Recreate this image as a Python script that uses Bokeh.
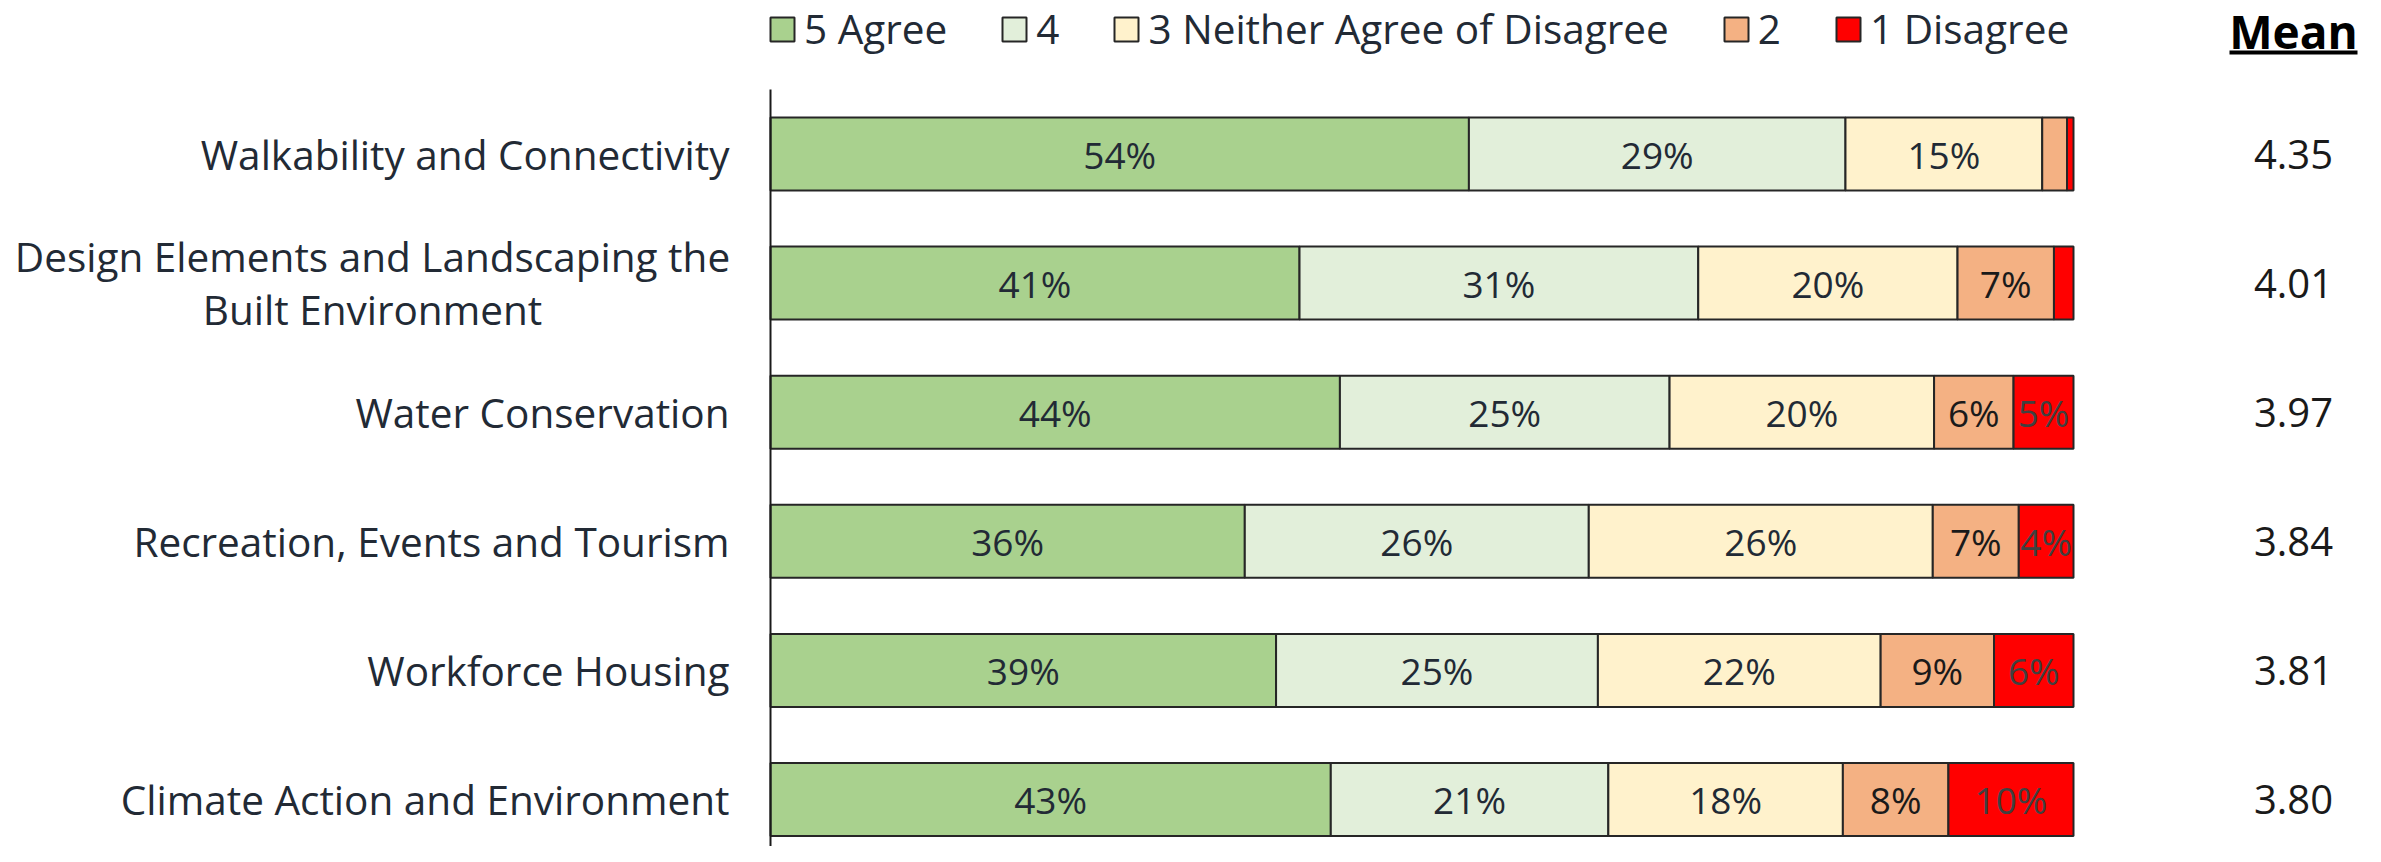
import numpy as np
from bokeh.plotting import figure
from bokeh.models import Range1d, ColumnDataSource, Legend, LegendItem
from bokeh.core.properties import value
from bokeh.embed import file_html
from bokeh.resources import INLINE

# ---------------- data ----------------
categories = [
    "Walkability and Connectivity",
    "Design Elements and Landscaping the\nBuilt Environment",
    "Water Conservation",
    "Recreation, Events and Tourism",
    "Workforce Housing",
    "Climate Action and Environment",
]
series_names = ["5 Agree", "4", "3 Neither Agree of Disagree", "2", "1 Disagree"]
agree5 = [53.6, 40.6, 43.7, 36.4, 38.8, 43.0]
agree4 = [28.9, 30.6, 25.3, 26.4, 24.7, 21.3]
neutral3 = [15.1, 19.9, 20.3, 26.4, 21.7, 18.0]
disagree2 = [1.9, 7.4, 6.1, 6.6, 8.7, 8.1]
disagree1 = [0.5, 1.5, 4.6, 4.2, 6.1, 9.6]
means = [4.35, 4.01, 3.97, 3.84, 3.81, 3.80]

series_values = [agree5, agree4, neutral3, disagree2, disagree1]
colors = ["#A9D18E", "#E2EFDA", "#FFF2CC", "#F4B183", "#FF0000"]
label_colors = ["#222A35", "#222A35", "#222A35", "#1A1A1A", "#404040"]

# ---------------- layout helpers ----------------
W, H = 2365, 846
PAGE = 0
X0_PAGE = 770.0          # x of 0 %
PX_PER_PCT = 13.03       # pixels per percent
ROW0_PAGE = 153.5        # y of first row centre
ROW_PX = 129.1           # pixels per row


def xd(page_x):
    return (page_x - X0_PAGE) / PX_PER_PCT


def yd(page_y):
    return (page_y - ROW0_PAGE) / ROW_PX


FONT = "Open Sans"
TEXT_COLOR = "#222A35"

p = figure(
    width=W, height=H,
    x_range=Range1d(xd(PAGE), xd(PAGE + W)),
    y_range=Range1d(yd(PAGE + H), yd(PAGE)),
    output_backend="svg", toolbar_location=None, min_border=0,
)
p.axis.visible = False
p.grid.visible = False
p.outline_line_color = None
p.background_fill_color = "white"

rows = np.arange(len(categories))
BAR_H = 73 / ROW_PX

# stacked bars
left = np.zeros(len(categories))
renderers = []
lx, ly, lt, lc = [], [], [], []
for name, vals, col, tcol in zip(series_names, series_values, colors, label_colors):
    vals = np.array(vals, dtype=float)
    right = left + vals
    src = ColumnDataSource(dict(y=rows, left=left, right=right))
    r = p.hbar(y="y", left="left", right="right", height=BAR_H, source=src,
               fill_color=col, line_color="#262626", line_width=2)
    renderers.append((name, r))
    for i, v in enumerate(vals):
        if round(v) >= 3:
            lx.append((left[i] + right[i]) / 2)
            ly.append(rows[i])
            lt.append(f"{round(v)}%")
            lc.append(tcol)
    left = right

p.text(x=lx, y=ly, text=lt, text_color=lc, text_font=value(FONT),
       text_font_size="37px", text_align="center", text_baseline="middle")

# vertical axis line
p.segment(x0=[0], y0=[-0.5], x1=[0], y1=[yd(PAGE + H)], line_color="#1A1A1A", line_width=2)

# category labels
single = [(c, i) for i, c in enumerate(categories) if "\n" not in c]
multi = [(c, i) for i, c in enumerate(categories) if "\n" in c]
p.text(x=[0] * len(single), y=[i for _, i in single], text=[c for c, _ in single],
       x_offset=-41, text_font=value(FONT), text_font_size="40.5px",
       text_color=TEXT_COLOR, text_align="right", text_baseline="middle")
p.text(x=[0] * len(multi), y=[i for _, i in multi], text=[c for c, _ in multi],
       x_offset=-398, text_font=value(FONT), text_font_size="40.5px",
       text_color=TEXT_COLOR, text_align="center", text_baseline="middle",
       text_line_height=0.97)

# mean column
p.text(x=[100] * len(means), y=rows, text=[f"{m:.2f}" for m in means],
       x_offset=220, text_font=value(FONT), text_font_size="40px",
       text_color="#1A1A1A", text_align="center", text_baseline="middle")
p.text(x=[xd(2293)], y=[yd(30)], text=["Mean"], text_font=value(FONT),
       text_font_size="46px", text_font_style="bold", text_color="#000000",
       text_align="center", text_baseline="middle")
p.segment(x0=[xd(2229)], y0=[yd(52)], x1=[xd(2357)], y1=[yd(52)],
          line_color="#000000", line_width=4)

# legend
legend = Legend(
    items=[LegendItem(label=n, renderers=[r]) for n, r in renderers],
    orientation="horizontal", location=(767, 790),
    glyph_width=30, glyph_height=30, label_standoff=7, spacing=52,
    padding=0, margin=0, border_line_color=None, background_fill_alpha=0,
    label_text_font=FONT, label_text_font_size="40.5px", label_text_color=TEXT_COLOR,
)
p.add_layout(legend, "center")

open("out.html", "w").write(file_html(p, INLINE))
